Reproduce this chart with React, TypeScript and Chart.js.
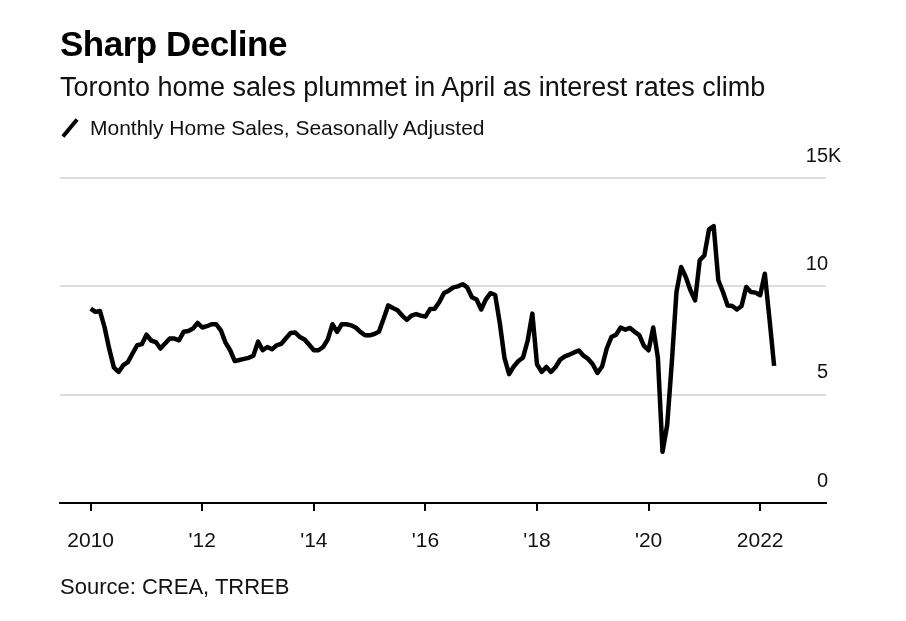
import React, { useEffect, useRef } from "react";
import { Chart, registerables } from "chart.js";

Chart.register(...registerables);

// Monthly home sales (thousands), seasonally adjusted, Jan 2010 - Apr 2022
const sales2010 = [8.97, 8.82, 8.86, 8.1, 7.1, 6.25, 6.05, 6.36, 6.5, 6.9, 7.28, 7.33];
const sales2011 = [7.77, 7.5, 7.43, 7.13, 7.36, 7.59, 7.59, 7.51, 7.9, 7.94, 8.05, 8.31];
const sales2012 = [8.1, 8.16, 8.25, 8.25, 7.97, 7.4, 7.05, 6.55, 6.6, 6.65, 6.7, 6.8];
const sales2013 = [7.45, 7.05, 7.2, 7.1, 7.28, 7.35, 7.6, 7.85, 7.87, 7.66, 7.55, 7.3];
const sales2014 = [7.05, 7.05, 7.2, 7.55, 8.25, 7.9, 8.25, 8.25, 8.2, 8.1, 7.9, 7.74];
const sales2015 = [7.74, 7.8, 7.9, 8.5, 9.12, 9.0, 8.9, 8.65, 8.45, 8.65, 8.72, 8.65];
const sales2016 = [8.6, 8.95, 8.97, 9.28, 9.69, 9.8, 9.95, 10.0, 10.1, 9.95, 9.5, 9.39];
const sales2017 = [8.93, 9.4, 9.69, 9.6, 8.3, 6.7, 5.95, 6.3, 6.55, 6.72, 7.5, 8.74];
const sales2018 = [6.4, 6.05, 6.28, 6.05, 6.28, 6.62, 6.77, 6.85, 6.95, 7.04, 6.8, 6.65];
const sales2019 = [6.4, 6.0, 6.3, 7.13, 7.66, 7.77, 8.1, 8.0, 8.08, 7.9, 7.75, 7.25];
const sales2020 = [7.05, 8.1, 6.7, 2.36, 3.6, 6.5, 9.74, 10.89, 10.43, 9.82, 9.35, 11.2];
const sales2021 = [11.43, 12.63, 12.78, 10.28, 9.74, 9.12, 9.09, 8.93, 9.09, 9.97, 9.74, 9.71];
const sales2022 = [9.59, 10.58, 8.51, 6.33];

const startYear = 2010;
const yTicks = [0, 5, 10, 15];
const xTicks = [2010, 2012, 2014, 2016, 2018, 2020, 2022];
const xLabels = ["2010", "'12", "'14", "'16", "'18", "'20", "2022"];

const FONT = "'Liberation Sans', Arial, Helvetica, sans-serif";

export default function App() {
  const ref = useRef<HTMLCanvasElement | null>(null);

  useEffect(() => {
    const all = [
      ...sales2010, ...sales2011, ...sales2012, ...sales2013, ...sales2014,
      ...sales2015, ...sales2016, ...sales2017, ...sales2018, ...sales2019,
      ...sales2020, ...sales2021, ...sales2022,
    ];
    const data = all.map((v, i) => ({ x: startYear + i / 12, y: v }));

    const yLabelPlugin = {
      id: "yLabels",
      afterDraw(chart: any) {
        const ctx = chart.ctx;
        const ys = chart.scales.y;
        ctx.save();
        ctx.font = `20px ${FONT}`;
        ctx.fillStyle = "#111";
        ctx.textBaseline = "middle";
        yTicks.forEach((v) => {
          const y = ys.getPixelForValue(v) - 22;
          ctx.textAlign = "right";
          ctx.fillText(String(v), 828, y);
          if (v === 15) {
            ctx.textAlign = "left";
            ctx.fillText("K", 828, y);
          }
        });
        ctx.restore();
      },
    };

    const chart = new Chart(ref.current as HTMLCanvasElement, {
      type: "line",
      data: {
        datasets: [
          {
            label: "Monthly Home Sales, Seasonally Adjusted",
            data,
            borderColor: "#000",
            borderWidth: 4.5,
            pointRadius: 0,
            tension: 0,
            borderJoinStyle: "round",
            borderCapStyle: "butt",
          },
        ],
      },
      options: {
        animation: false,
        responsive: false,
        events: [],
        layout: { padding: { left: 60, right: 80, top: 178, bottom: 0 } },
        plugins: { legend: { display: false }, tooltip: { enabled: false } },
        scales: {
          x: {
            type: "linear",
            min: 2009.45,
            max: 2023.18,
            afterBuildTicks: (s: any) => {
              s.ticks = xTicks.map((v) => ({ value: v }));
            },
            afterFit: (s: any) => {
              s.height = 118;
            },
            grid: {
              drawOnChartArea: false,
              drawTicks: true,
              tickLength: 8,
              color: "#000",
              lineWidth: 2,
            },
            border: { display: true, color: "#000", width: 2 },
            ticks: {
              autoSkip: false,
              maxRotation: 0,
              padding: 18,
              color: "#111",
              font: { family: FONT, size: 21 },
              callback: (v: any) => {
                const i = xTicks.indexOf(Number(v));
                return i >= 0 ? xLabels[i] : "";
              },
            },
          },
          y: {
            min: 0,
            max: 15,
            afterBuildTicks: (s: any) => {
              s.ticks = yTicks.map((v) => ({ value: v }));
            },
            afterFit: (s: any) => {
              s.width = 0;
            },
            ticks: { display: false },
            grid: { color: "#dcdcdc", lineWidth: 2, drawTicks: false },
            border: { display: false },
          },
        },
      },
      plugins: [yLabelPlugin],
    });
    return () => chart.destroy();
  }, []);

  const text: React.CSSProperties = {
    position: "absolute",
    left: 60,
    fontFamily: FONT,
    lineHeight: 1,
    whiteSpace: "nowrap",
    color: "#111",
  };

  return (
    <div style={{ position: "absolute", left: 0, top: 0, width: 906, height: 621, background: "#fff", overflow: "hidden" }}>
      <canvas ref={ref} width={906} height={621} style={{ position: "absolute", left: 0, top: 0 }} />
      <div style={{ ...text, top: 26, fontSize: 35, fontWeight: 700, color: "#000", letterSpacing: -0.5 }}>Sharp Decline</div>
      <div style={{ ...text, top: 74, fontSize: 27 }}>Toronto home sales plummet in April as interest rates climb</div>
      <div style={{ ...text, top: 117, left: 90, fontSize: 21 }}>Monthly Home Sales, Seasonally Adjusted</div>
      <div
        style={{
          position: "absolute",
          left: 59,
          top: 126,
          width: 22,
          height: 4,
          background: "#000",
          transform: "rotate(-50deg)",
        }}
      />
      <div style={{ ...text, top: 576, fontSize: 22 }}>Source: CREA, TRREB</div>
    </div>
  );
}
